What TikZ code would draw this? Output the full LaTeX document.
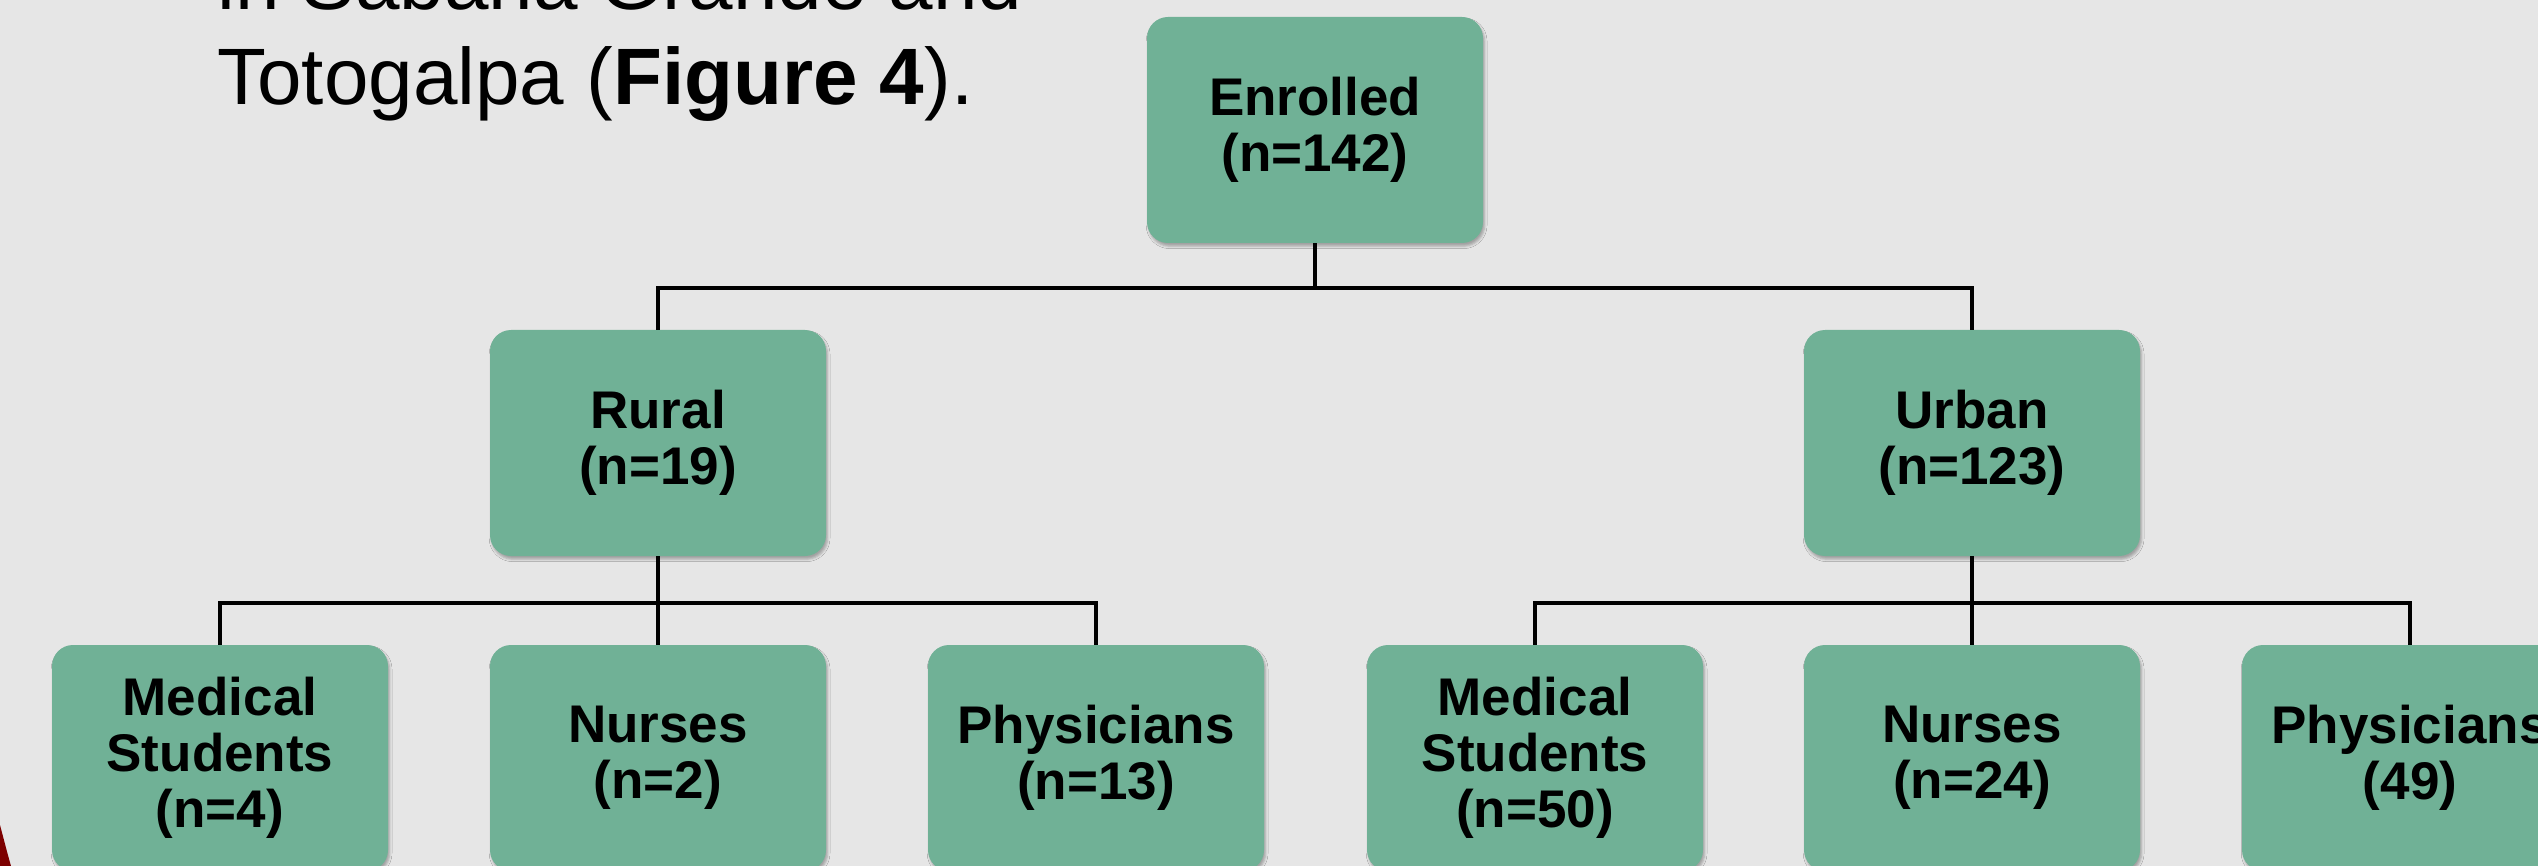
\documentclass[tikz,border=0pt]{standalone}
\usepackage{fontspec}
\setmainfont{Liberation Sans}
\usetikzlibrary{shadows.blur}
\definecolor{bg}{RGB}{230,230,230}
\definecolor{boxgreen}{RGB}{112,177,150}
\definecolor{darkred}{RGB}{125,0,0}
\begin{document}
\begin{tikzpicture}[x=0.5pt,y=-0.5pt,
  box/.style={draw=none, fill=boxgreen, rounded corners=10.5pt,
    minimum width=168pt, minimum height=113pt, align=center, inner sep=0pt,
    font=\bfseries\fontsize{26.5}{28}\selectfont,
    blur shadow={shadow xshift=0.8pt, shadow yshift=-1.6pt, shadow blur radius=1.2pt, shadow opacity=30}},
  conn/.style={draw=black, line width=1.6pt},
  bodytext/.style={anchor=base west, inner sep=0pt, font=\fontsize{40}{48}\selectfont}]
\fill[bg] (0,0) rectangle (2538,866);
\useasboundingbox (0,0) rectangle (2538,866);
\fill[darkred] (0,825) .. controls (4,840) and (7,852) .. (11,866) -- (0,866) -- cycle;

\node[bodytext] (t1) at (217,10) {in Sabana Grande and};
\node[bodytext] (t2) at (217,105) {Totogalpa (\textbf{Figure 4}).};

\node[box] (enr) at (1315,130) {Enrolled\\(n=142)};
\node[box] (rural) at (658,443) {Rural\\(n=19)};
\node[box] (urban) at (1972,443) {Urban\\(n=123)};
\node[box] (ms1) at (220,758) {Medical\\Students\\(n=4)};
\node[box] (nu1) at (658,758) {Nurses\\(n=2)};
\node[box] (ph1) at (1096,758) {Physicians\\(n=13)};
\node[box] (ms2) at (1535,758) {Medical\\Students\\(n=50)};
\node[box] (nu2) at (1972,758) {Nurses\\(n=24)};
\node[box] (ph2) at (2410,758) {Physicians\\(49)};

\coordinate (j0) at (1315,288);
\coordinate (j1) at (658,603);
\coordinate (j2) at (1972,603);
\draw[conn] (enr.south) -- (j0);
\draw[conn] (j0) -| (rural.north);
\draw[conn] (j0) -| (urban.north);
\draw[conn] (rural.south) -- (nu1.north);
\draw[conn] (j1) -| (ms1.north);
\draw[conn] (j1) -| (ph1.north);
\draw[conn] (urban.south) -- (nu2.north);
\draw[conn] (j2) -| (ms2.north);
\draw[conn] (j2) -| (ph2.north);
\end{tikzpicture}
\end{document}
